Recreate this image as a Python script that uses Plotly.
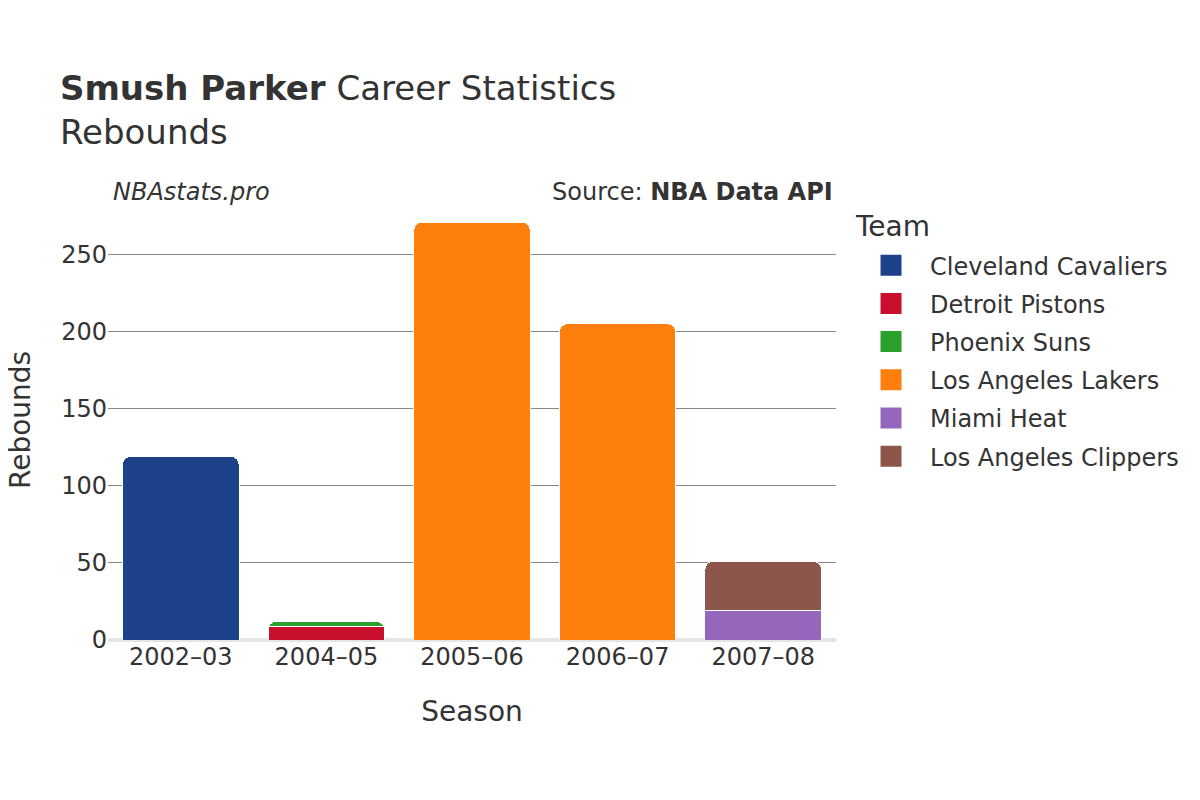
import plotly.graph_objects as go

seasons = ["2002–03", "2004–05", "2005–06", "2006–07", "2007–08"]
teams = ["Cleveland Cavaliers", "Detroit Pistons", "Phoenix Suns",
         "Los Angeles Lakers", "Miami Heat", "Los Angeles Clippers"]
colors = ["#1d428a", "#c8102e", "#2ca02c", "#ff7f0e", "#9467bd", "#8c564b"]
rebounds = {
    "Cleveland Cavaliers": [119, None, None, None, None],
    "Detroit Pistons": [None, 9, None, None, None],
    "Phoenix Suns": [None, 3, None, None, None],
    "Los Angeles Lakers": [None, None, 271, 205, None],
    "Miami Heat": [None, None, None, None, 19],
    "Los Angeles Clippers": [None, None, None, None, 32],
}

font = "DejaVu Sans"
fig = go.Figure()
for t, c in zip(teams, colors):
    fig.add_trace(go.Bar(x=seasons, y=rebounds[t], name=t, legendgroup=t,
                         showlegend=False,
                         marker=dict(color=c, line=dict(color="white", width=1))))
    fig.add_trace(go.Scatter(x=[None], y=[None], name=t, legendgroup=t,
                             mode="markers", showlegend=True,
                             marker=dict(symbol="square", size=16, color=c,
                                         line=dict(color=c, width=5))))

fig.update_layout(
    barmode="stack",
    bargap=0.2,
    barcornerradius=8,
    width=1200, height=800,
    paper_bgcolor="white", plot_bgcolor="white",
    font=dict(family=font, size=24, color="#333333"),
    margin=dict(l=100, r=372, t=192, b=168),
    title=dict(text="<b>Smush Parker</b> Career Statistics<br>Rebounds",
               x=0.0433, xanchor="left", y=0.885, yanchor="top",
               font=dict(size=34, color="#333333")),
    legend=dict(x=1.022, y=0.902,
                xanchor="left", yanchor="top", font=dict(size=24),
                traceorder="grouped", tracegroupgap=4, itemwidth=68),
    xaxis=dict(title=dict(text="Season", font=dict(size=28), standoff=31),
               showgrid=False, tickfont=dict(size=24), automargin=False),
    yaxis=dict(showgrid=True, gridcolor="#888888", gridwidth=1,
               zeroline=True, zerolinecolor="#e5e5e5", zerolinewidth=4,
               tickfont=dict(size=24), dtick=50, automargin=False),
    annotations=[
        dict(text="Rebounds", x=-0.1264, y=0.5, xref="paper", yref="paper",
             xanchor="center", yanchor="middle", textangle=-90, showarrow=False,
             font=dict(size=28), borderpad=0, xshift=4),
        dict(text="<i>NBAstats.pro</i>", x=0.007, y=1.0, xref="paper", yref="paper",
             xanchor="left", yanchor="bottom", showarrow=False, font=dict(size=24),
             xshift=-2, yshift=-8),
        dict(text="Source: <b>NBA Data API</b>", x=0.9945, y=1.0, xref="paper",
             yref="paper", xanchor="right", yanchor="bottom", showarrow=False,
             font=dict(size=24), xshift=3, yshift=-8),
        dict(text="Team", x=1.0234, y=0.939, xref="paper", yref="paper",
             xanchor="left", yanchor="middle", showarrow=False,
             font=dict(size=28)),
    ],
)
fig.write_html("out.html")
